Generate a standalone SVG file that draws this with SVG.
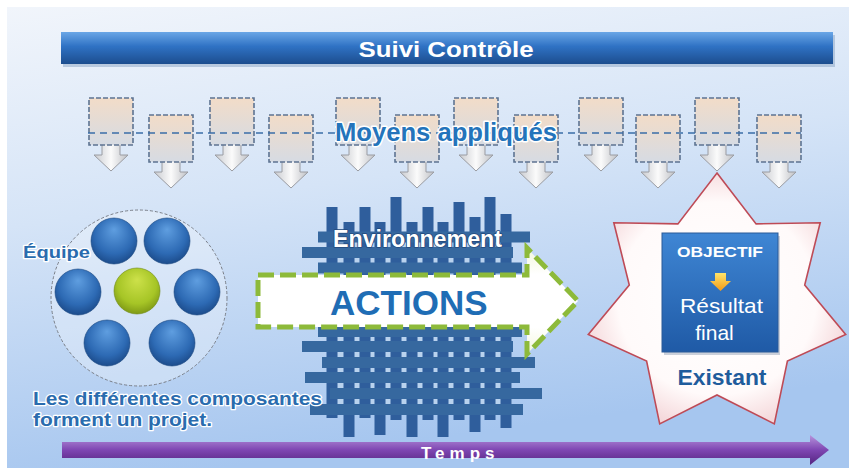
<svg xmlns="http://www.w3.org/2000/svg" xmlns:xlink="http://www.w3.org/1999/xlink" width="849" height="468" viewBox="0 0 849 468">
<defs>
<linearGradient id="bg" x1="0" y1="0" x2="0.25" y2="1">
<stop offset="0" stop-color="#f1f5fb"/>
<stop offset="0.45" stop-color="#d5e4f7"/>
<stop offset="1" stop-color="#a6c6ef"/>
</linearGradient>
<linearGradient id="barBlue" x1="0" y1="0" x2="0" y2="1">
<stop offset="0" stop-color="#6aa6e6"/>
<stop offset="0.45" stop-color="#2f72c4"/>
<stop offset="1" stop-color="#1c4d8e"/>
</linearGradient>
<linearGradient id="barPurple" x1="0" y1="0" x2="0" y2="1">
<stop offset="0" stop-color="#b794dc"/>
<stop offset="0.5" stop-color="#7e46b2"/>
<stop offset="1" stop-color="#552480"/>
</linearGradient>
<linearGradient id="boxFill" x1="0" y1="0" x2="0" y2="1">
<stop offset="0" stop-color="#f2dcc8"/>
<stop offset="1" stop-color="#d6dbe3"/>
</linearGradient>
<linearGradient id="downFill" x1="0" y1="0" x2="1" y2="0">
<stop offset="0" stop-color="#c8cacf"/>
<stop offset="0.5" stop-color="#fbfbfb"/>
<stop offset="1" stop-color="#bfc1c6"/>
</linearGradient>
<radialGradient id="blueBall" cx="0.5" cy="0.4" r="0.6" fx="0.5" fy="0.25">
<stop offset="0" stop-color="#5f9ee0"/>
<stop offset="0.7" stop-color="#2d6ab4"/>
<stop offset="1" stop-color="#1c4c8c"/>
</radialGradient>
<radialGradient id="greenBall" cx="0.5" cy="0.4" r="0.6" fx="0.5" fy="0.25">
<stop offset="0" stop-color="#cde14a"/>
<stop offset="0.7" stop-color="#a6c526"/>
<stop offset="1" stop-color="#7f9a16"/>
</radialGradient>
<radialGradient id="starFill" cx="0.5" cy="0.5" r="0.55">
<stop offset="0" stop-color="#ffffff"/>
<stop offset="0.7" stop-color="#fffafa"/>
<stop offset="1" stop-color="#f3d3d6"/>
</radialGradient>
<linearGradient id="objFill" x1="0" y1="0" x2="0" y2="1">
<stop offset="0" stop-color="#3f86d4"/>
<stop offset="1" stop-color="#1f5aa6"/>
</linearGradient>
<linearGradient id="yellow" x1="0" y1="0" x2="0" y2="1">
<stop offset="0" stop-color="#ffe46a"/>
<stop offset="1" stop-color="#f29a18"/>
</linearGradient>
<linearGradient id="actFill" x1="0" y1="0" x2="0" y2="1">
<stop offset="0" stop-color="#f3f7dc"/>
<stop offset="0.25" stop-color="#ffffff"/>
<stop offset="0.75" stop-color="#ffffff"/>
<stop offset="1" stop-color="#f3f7dc"/>
</linearGradient>
<g id="moyen">
<path d="M-9,46 L9,46 L9,57 L17,57 L0,73 L-17,57 L-9,57 Z" fill="url(#downFill)" stroke="#9a9ca2" stroke-width="1"/>
<rect x="-22" y="0" width="44" height="47" fill="url(#boxFill)" stroke="#5d7391" stroke-width="1.6" stroke-dasharray="5 2"/>
</g>
</defs>
<style>
.txt{font-family:"Liberation Sans",Arial,sans-serif}
.b{font-weight:bold}
.wht{fill:#ffffff}
.blu{fill:#2a6cae;stroke:#ffffff;stroke-width:2.5;paint-order:stroke;stroke-linejoin:round}
.vbar{fill:#2f5e9c}
.hbar{fill:#36689f}
.hole{fill:#b9d2ee}
.ball{stroke:#1a467f;stroke-width:0.6}
</style>

<g id="background">
<rect x="0" y="0" width="849" height="468" fill="#ffffff"/>
<rect x="7" y="7" width="842" height="461" fill="url(#bg)"/>
</g>

<g id="suivi-controle">
<rect x="63" y="35" width="772" height="32" fill="#8aa4c4" opacity="0.5"/>
<rect x="61" y="32" width="772" height="32" fill="url(#barBlue)"/>
<text class="txt b wht" x="446" y="57" font-size="22" text-anchor="middle" textLength="175" lengthAdjust="spacingAndGlyphs">Suivi Contrôle</text>
</g>

<g id="moyens">
<g id="moyen-1" transform="translate(111,98)"><use xlink:href="#moyen"/></g>
<g id="moyen-2" transform="translate(171,115)"><use xlink:href="#moyen"/></g>
<g id="moyen-3" transform="translate(232,98)"><use xlink:href="#moyen"/></g>
<g id="moyen-4" transform="translate(291,115)"><use xlink:href="#moyen"/></g>
<g id="moyen-5" transform="translate(358,98)"><use xlink:href="#moyen"/></g>
<g id="moyen-6" transform="translate(417,115)"><use xlink:href="#moyen"/></g>
<g id="moyen-7" transform="translate(476,98)"><use xlink:href="#moyen"/></g>
<g id="moyen-8" transform="translate(536,115)"><use xlink:href="#moyen"/></g>
<g id="moyen-9" transform="translate(601,98)"><use xlink:href="#moyen"/></g>
<g id="moyen-10" transform="translate(658,115)"><use xlink:href="#moyen"/></g>
<g id="moyen-11" transform="translate(717,98)"><use xlink:href="#moyen"/></g>
<g id="moyen-12" transform="translate(779,115)"><use xlink:href="#moyen"/></g>
</g>

<g id="connectors">
<line x1="88" y1="133" x2="801" y2="133" stroke="#3a6ea8" stroke-width="1.6" stroke-dasharray="7 5"/>
</g>

<g id="moyens-label">
<text class="txt b" x="335" y="141" font-size="25" fill="#2474bb" stroke="#ffffff" stroke-width="3" paint-order="stroke" stroke-linejoin="round" textLength="222" lengthAdjust="spacingAndGlyphs">Moyens appliqués</text>
</g>

<g id="equipe">
<circle cx="139" cy="298" r="88" fill="#ffffff" fill-opacity="0.28" stroke="#7a7f88" stroke-width="1" stroke-dasharray="3 2"/>
<circle class="ball" cx="114" cy="241" r="23" fill="url(#blueBall)"/>
<circle class="ball" cx="167" cy="241" r="23" fill="url(#blueBall)"/>
<circle class="ball" cx="78" cy="292" r="23" fill="url(#blueBall)"/>
<circle cx="137" cy="291" r="23" fill="url(#greenBall)" stroke="#6e8a12" stroke-width="0.6"/>
<circle class="ball" cx="197" cy="292" r="23" fill="url(#blueBall)"/>
<circle class="ball" cx="107" cy="343" r="23" fill="url(#blueBall)"/>
<circle class="ball" cx="172" cy="343" r="23" fill="url(#blueBall)"/>
<text class="txt b blu" x="23" y="258" font-size="16" textLength="67" lengthAdjust="spacingAndGlyphs">Équipe</text>
</g>

<g id="environnement">
<rect x="327" y="237" width="185" height="172" class="hole"/>
<rect class="vbar" x="326.5" y="207" width="11" height="211"/>
<rect class="vbar" x="343.5" y="222" width="11" height="215"/>
<rect class="vbar" x="359.5" y="207" width="11" height="211"/>
<rect class="vbar" x="374.5" y="222" width="11" height="213"/>
<rect class="vbar" x="390.5" y="197" width="11" height="223"/>
<rect class="vbar" x="406.5" y="222" width="11" height="215"/>
<rect class="vbar" x="422.5" y="207" width="11" height="213"/>
<rect class="vbar" x="437.5" y="222" width="11" height="215"/>
<rect class="vbar" x="453.5" y="202" width="11" height="218"/>
<rect class="vbar" x="469.5" y="217" width="11" height="215"/>
<rect class="vbar" x="484.5" y="197" width="11" height="223"/>
<rect class="vbar" x="500.5" y="214" width="11" height="214"/>
<rect class="hbar" x="318" y="231.5" width="212" height="11"/>
<rect class="hbar" x="302" y="247" width="211" height="11"/>
<rect class="hbar" x="318" y="262.5" width="204" height="11"/>
<rect class="hbar" x="305" y="278.5" width="220" height="11"/>
<rect class="hbar" x="310" y="293.5" width="220" height="11"/>
<rect class="hbar" x="305" y="309.5" width="215" height="11"/>
<rect class="hbar" x="318" y="326" width="204" height="11"/>
<rect class="hbar" x="302" y="341" width="211" height="11"/>
<rect class="hbar" x="322" y="357" width="213" height="11"/>
<rect class="hbar" x="305" y="372" width="215" height="11"/>
<rect class="hbar" x="330" y="388" width="212" height="11"/>
<rect class="hbar" x="310" y="404" width="213" height="11"/>
<text class="txt b wht" x="333" y="247" font-size="23" stroke="#23497c" stroke-width="1.6" paint-order="stroke" stroke-linejoin="round" textLength="169" lengthAdjust="spacingAndGlyphs">Environnement</text>
</g>

<g id="actions">
<path d="M258,275 L527,275 L527,248 L578,301 L527,354 L527,327 L258,327 Z" fill="url(#actFill)" stroke="#8dba3a" stroke-width="5" stroke-dasharray="16 6"/>
<text class="txt b" x="330" y="315" font-size="35" fill="#1f6db5">ACTIONS</text>
</g>

<g id="composantes">
<text class="txt b blu" x="33" y="405" font-size="19" textLength="289" lengthAdjust="spacingAndGlyphs">Les différentes composantes</text>
<text class="txt b blu" x="33" y="426" font-size="19" textLength="179" lengthAdjust="spacingAndGlyphs">forment un projet.</text>
</g>

<g id="existant">
<polygon points="717,173 756.1,223.9 820.2,222.7 804.7,285 845.7,334.4 787.4,361.1 774.3,423.9 717,395 659.7,423.9 646.6,361.1 588.3,334.4 629.3,285 613.8,222.7 677.9,223.9" fill="url(#starFill)" stroke="#be4b57" stroke-width="1.6" stroke-linejoin="miter"/>
<text class="txt b" x="722" y="385" font-size="22" fill="#1f5c9c" text-anchor="middle" textLength="89" lengthAdjust="spacingAndGlyphs">Existant</text>
</g>

<g id="objectif">
<rect x="664" y="236" width="116" height="119" fill="#6b7f9c" opacity="0.35"/>
<rect x="662" y="233" width="116" height="119" fill="url(#objFill)" stroke="#2a5a98" stroke-width="1"/>
<text class="txt b wht" x="720" y="257" font-size="15" text-anchor="middle" textLength="86" lengthAdjust="spacingAndGlyphs">OBJECTIF</text>
<polygon points="715,273 726,273 726,281 731,281 720.5,291 710,281 715,281" fill="url(#yellow)"/>
<text class="txt wht" x="721.5" y="313" font-size="21" text-anchor="middle" textLength="83" lengthAdjust="spacingAndGlyphs">Résultat</text>
<text class="txt wht" x="714.5" y="340" font-size="21" text-anchor="middle">final</text>
</g>

<g id="temps">
<path d="M62,442 L810,442 L810,435 L829,450 L810,465 L810,458 L62,458 Z" fill="url(#barPurple)"/>
<text class="txt b wht" x="421" y="459" font-size="17" letter-spacing="5">Temps</text>
</g>
</svg>
